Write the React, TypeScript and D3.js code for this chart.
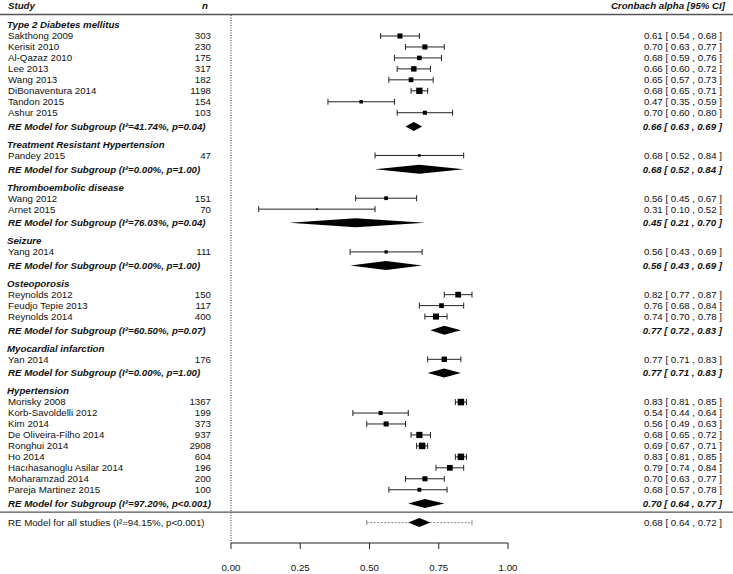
import React from "react";
import * as d3 from "d3";

// ---------- data ----------
const groupNames = [
  "Type 2 Diabetes mellitus",
  "Treatment Resistant Hypertension",
  "Thromboembolic disease",
  "Seizure",
  "Osteoporosis",
  "Myocardial infarction",
  "Hypertension",
];
const groupI2 = ["41.74%", "0.00%", "76.03%", "0.00%", "60.50%", "0.00%", "97.20%"];
const groupP = ["p=0.04", "p=1.00", "p=0.04", "p=1.00", "p=0.07", "p=1.00", "p<0.001"];
const groupEst = [0.66, 0.68, 0.45, 0.56, 0.77, 0.77, 0.70];
const groupLb = [0.63, 0.52, 0.21, 0.43, 0.72, 0.71, 0.64];
const groupUb = [0.69, 0.84, 0.70, 0.69, 0.83, 0.83, 0.77];

const studyNames = [
  "Sakthong 2009", "Kerisit 2010", "Al-Qazaz 2010", "Lee 2013", "Wang 2013",
  "DiBonaventura 2014", "Tandon 2015", "Ashur 2015",
  "Pandey 2015",
  "Wang 2012", "Arnet 2015",
  "Yang 2014",
  "Reynolds 2012", "Feudjo Tepie 2013", "Reynolds 2014",
  "Yan 2014",
  "Morisky 2008", "Korb-Savoldelli 2012", "Kim 2014", "De Oliveira-Filho 2014",
  "Ronghui 2014", "Ho 2014", "Hacıhasanoglu Asilar 2014", "Moharamzad 2014", "Pareja Martinez 2015",
];
const studyGroup = [0, 0, 0, 0, 0, 0, 0, 0, 1, 2, 2, 3, 4, 4, 4, 5, 6, 6, 6, 6, 6, 6, 6, 6, 6];
const studyN = [303, 230, 175, 317, 182, 1198, 154, 103, 47, 151, 70, 111, 150, 117, 400, 176,
  1367, 199, 373, 937, 2908, 604, 196, 200, 100];
const studyEst = [0.61, 0.70, 0.68, 0.66, 0.65, 0.68, 0.47, 0.70, 0.68, 0.56, 0.31, 0.56, 0.82, 0.76, 0.74, 0.77,
  0.83, 0.54, 0.56, 0.68, 0.69, 0.83, 0.79, 0.70, 0.68];
const studyLb = [0.54, 0.63, 0.59, 0.60, 0.57, 0.65, 0.35, 0.60, 0.52, 0.45, 0.10, 0.43, 0.77, 0.68, 0.70, 0.71,
  0.81, 0.44, 0.49, 0.65, 0.67, 0.81, 0.74, 0.63, 0.57];
const studyUb = [0.68, 0.77, 0.76, 0.72, 0.73, 0.71, 0.59, 0.80, 0.84, 0.67, 0.52, 0.69, 0.87, 0.84, 0.78, 0.83,
  0.85, 0.64, 0.63, 0.72, 0.71, 0.85, 0.84, 0.77, 0.78];

const overallLabel = "RE Model for all studies (I²=94.15%, p<0.001)";
const overallEst = 0.68;
const overallLb = 0.64;
const overallUb = 0.72;
const overallPiLb = 0.49;
const overallPiUb = 0.87;

const tickValues = [0, 0.25, 0.5, 0.75, 1];
const tickLabels = ["0.00", "0.25", "0.50", "0.75", "1.00"];

// ---------- layout ----------
const W = 733;
const H = 574;
const FONT = "'Liberation Sans', Arial, sans-serif";
const FS = 9.7;
const TXT = "#111";

const x = d3.scaleLinear().domain([0, 1]).range([231, 508]);
const y = d3.scaleLinear().domain([0, 1]).range([36, 46.96]);

type Row =
  | { kind: "header"; g: number; u: number }
  | { kind: "study"; i: number; u: number }
  | { kind: "re"; g: number; u: number };

const rows: Row[] = [];
{
  let u = -1;
  groupNames.forEach((_, g) => {
    if (g > 0) u += 1.65;
    rows.push({ kind: "header", g, u });
    studyGroup.forEach((sg, i) => {
      if (sg === g) {
        u += 1;
        rows.push({ kind: "study", i, u });
      }
    });
    u += 1.25;
    rows.push({ kind: "re", g, u });
  });
}
const lastU = rows[rows.length - 1].u;
const dividerU = lastU + 0.8;
const overallU = lastU + 1.75;
const axisY = 543;

const fmt = (v: number) => v.toFixed(2);
const ciText = (e: number, l: number, u: number) => `${fmt(e)} [ ${fmt(l)} , ${fmt(u)} ]`;

// square sizes from inverse-variance (random-effects) weights
const tau2 = 0.004;
const weights = studyLb.map((l, i) => 1 / (((studyUb[i] - l) / 3.92) ** 2 + tau2));
const sizeScale = d3.scaleLinear().domain(d3.extent(weights) as [number, number]).range([1.8, 6.5]);

const diamond = (e: number, l: number, u: number, cy: number, hh: number) =>
  `M${x(l)},${cy} L${x(e)},${cy - hh} L${x(u)},${cy} L${x(e)},${cy + hh} Z`;

export default function App() {
  return (
    <svg width={W} height={H} style={{ display: "block", position: "absolute", left: 0, top: 0, background: "#fff" }}
      fontFamily={FONT} fontSize={FS} fill={TXT}>
      {/* header */}
      <text x={8} y={6} dy="0.35em" fontWeight="bold" fontStyle="italic">Study</text>
      <text x={205} y={6} dy="0.35em" fontWeight="bold" fontStyle="italic" textAnchor="middle">n</text>
      <text x={725} y={6} dy="0.35em" fontWeight="bold" fontStyle="italic" textAnchor="end">Cronbach alpha [95% CI]</text>
      <line x1={0} x2={W} y1={14.5} y2={14.5} stroke="#555" strokeWidth={1.3} />

      {/* reference dotted line */}
      <line x1={x(0)} x2={x(0)} y1={15} y2={axisY} stroke="#333" strokeWidth={1} strokeDasharray="1,1.5" />

      {rows.map((r, k) => {
        const cy = y(r.u);
        if (r.kind === "header") {
          return (
            <text key={k} x={7} y={cy} dy="0.35em" fontWeight="bold" fontStyle="italic">{groupNames[r.g]}</text>
          );
        }
        if (r.kind === "study") {
          const i = r.i;
          const s = sizeScale(weights[i]);
          return (
            <g key={k}>
              <text x={8} y={cy} dy="0.35em">{studyNames[i]}</text>
              <text x={211} y={cy} dy="0.35em" textAnchor="end">{studyN[i]}</text>
              <line x1={x(studyLb[i])} x2={x(studyUb[i])} y1={cy} y2={cy} stroke="#222" strokeWidth={1} />
              <line x1={x(studyLb[i])} x2={x(studyLb[i])} y1={cy - 3} y2={cy + 3} stroke="#222" strokeWidth={1} />
              <line x1={x(studyUb[i])} x2={x(studyUb[i])} y1={cy - 3} y2={cy + 3} stroke="#222" strokeWidth={1} />
              <rect x={x(studyEst[i]) - s / 2} y={cy - s / 2} width={s} height={s} fill="#000" />
              <text x={722} y={cy} dy="0.35em" textAnchor="end">{ciText(studyEst[i], studyLb[i], studyUb[i])}</text>
            </g>
          );
        }
        const g = r.g;
        return (
          <g key={k}>
            <text x={8} y={cy} dy="0.35em" fontWeight="bold" fontStyle="italic">
              {`RE Model for Subgroup (I²=${groupI2[g]}, ${groupP[g]})`}
            </text>
            <path d={diamond(groupEst[g], groupLb[g], groupUb[g], cy, 4.5)} fill="#000" />
            <text x={722} y={cy} dy="0.35em" textAnchor="end" fontWeight="bold" fontStyle="italic">
              {ciText(groupEst[g], groupLb[g], groupUb[g])}
            </text>
          </g>
        );
      })}

      {/* divider */}
      <line x1={0} x2={W} y1={y(dividerU)} y2={y(dividerU)} stroke="#555" strokeWidth={1.3} />

      {/* overall */}
      {(() => {
        const cy = y(overallU);
        return (
          <g>
            <text x={8} y={cy} dy="0.35em">{overallLabel}</text>
            <line x1={x(overallPiLb)} x2={x(overallPiUb)} y1={cy} y2={cy} stroke="#888" strokeWidth={1} strokeDasharray="2,1.5" />
            <line x1={x(overallPiLb)} x2={x(overallPiLb)} y1={cy - 2.5} y2={cy + 2.5} stroke="#888" strokeWidth={1} />
            <line x1={x(overallPiUb)} x2={x(overallPiUb)} y1={cy - 2.5} y2={cy + 2.5} stroke="#888" strokeWidth={1} />
            <path d={diamond(overallEst, overallLb, overallUb, cy, 4.5)} fill="#000" />
            <text x={722} y={cy} dy="0.35em" textAnchor="end">{ciText(overallEst, overallLb, overallUb)}</text>
          </g>
        );
      })()}

      {/* axis */}
      <line x1={x(0)} x2={x(1)} y1={axisY} y2={axisY} stroke="#222" strokeWidth={1} />
      {tickValues.map((t, k) => (
        <g key={k}>
          <line x1={x(t)} x2={x(t)} y1={axisY} y2={axisY + 6} stroke="#222" strokeWidth={1} />
          <text x={x(t)} y={568} dy="0.35em" textAnchor="middle">{tickLabels[k]}</text>
        </g>
      ))}
    </svg>
  );
}
